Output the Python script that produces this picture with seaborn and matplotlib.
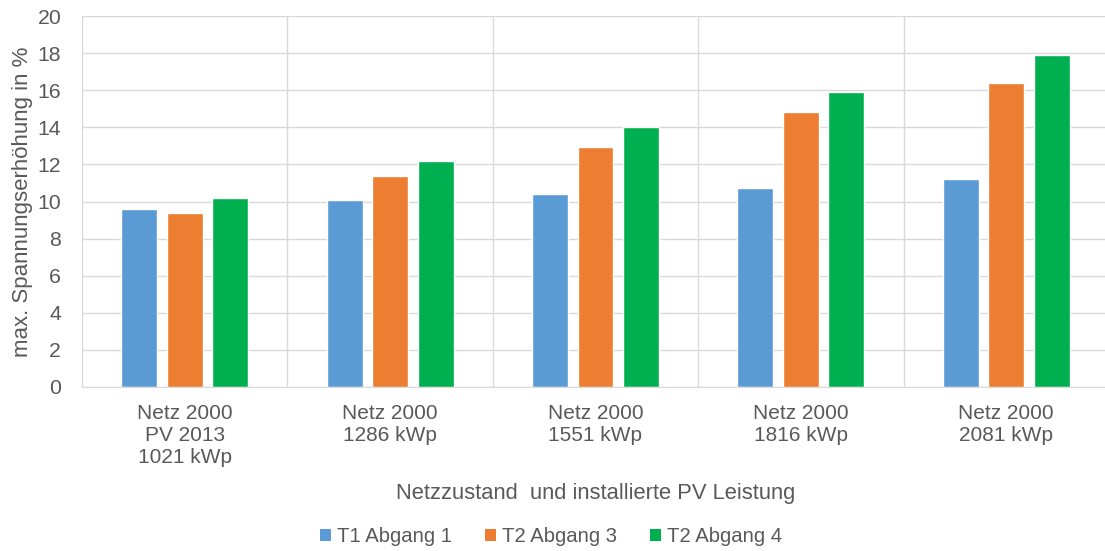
import matplotlib
matplotlib.use("Agg")
import matplotlib.pyplot as plt
import seaborn as sns
import pandas as pd
from matplotlib.patches import Patch

categories = ["Netz 2000\nPV 2013\n1021 kWp", "Netz 2000\n1286 kWp", "Netz 2000\n1551 kWp",
              "Netz 2000\n1816 kWp", "Netz 2000\n2081 kWp"]
series_names = ["T1 Abgang 1", "T2 Abgang 3", "T2 Abgang 4"]
t1_abgang1 = [9.6, 10.1, 10.4, 10.75, 11.2]
t2_abgang3 = [9.4, 11.4, 12.95, 14.8, 16.4]
t2_abgang4 = [10.2, 12.2, 14.0, 15.9, 17.9]
colors = ["#5B9BD5", "#ED7D31", "#00B050"]

df = pd.DataFrame({
    "cat": categories * 3,
    "series": [series_names[0]] * 5 + [series_names[1]] * 5 + [series_names[2]] * 5,
    "val": t1_abgang1 + t2_abgang3 + t2_abgang4,
})

sns.set_style("white")
plt.rcParams['font.family'] = ['Liberation Sans', 'DejaVu Sans']
txt = "#595959"
grid = "#D9D9D9"

fig = plt.figure(figsize=(11.05, 5.51), dpi=100)
W, H = 1105, 551
ax = fig.add_axes([82 / W, (H - 387) / H, (1109 - 82) / W, (387 - 16) / H])

sns.barplot(data=df, x="cat", y="val", hue="series", palette=colors, ax=ax,
            width=0.664, gap=0.21, legend=False, saturation=1)

ax.set_ylim(0, 20)
ax.set_xlim(-0.5, 4.5)
ax.set_yticks(range(0, 21, 2))
ax.set_xticks(range(5))
ax.set_xticklabels(categories, linespacing=1.2)
ax.set_xticks([-0.5 + i for i in range(6)], minor=True)
ax.tick_params(axis="y", labelsize=15.3, colors=txt, length=0, pad=15)
ax.tick_params(axis="x", which="major", labelsize=15, colors=txt, length=0, pad=12)
ax.tick_params(axis="x", which="minor", length=0)
ax.yaxis.grid(True, color=grid, linewidth=1)
ax.xaxis.grid(True, which="minor", color=grid, linewidth=1)
ax.xaxis.grid(False, which="major")
ax.set_axisbelow(True)
for s in ax.spines.values():
    s.set_visible(False)
ax.spines["bottom"].set_visible(True)
ax.spines["bottom"].set_color(grid)

ax.set_ylabel("max. Spannungserhöhung in %", fontsize=16, color=txt, labelpad=3)
ax.set_xlabel("Netzzustand  und installierte PV Leistung", fontsize=15.8, color=txt, labelpad=12)

handles = [Patch(facecolor=c, edgecolor="none") for c in colors]
fig.legend(handles, series_names, loc="center", bbox_to_anchor=(551 / W, 1 - 537 / H),
           ncol=3, frameon=False, fontsize=14.6, labelcolor=txt, handlelength=0.55,
           handleheight=0.55, handletextpad=0.3, columnspacing=1.6)

fig.savefig("out.png", dpi=100)
